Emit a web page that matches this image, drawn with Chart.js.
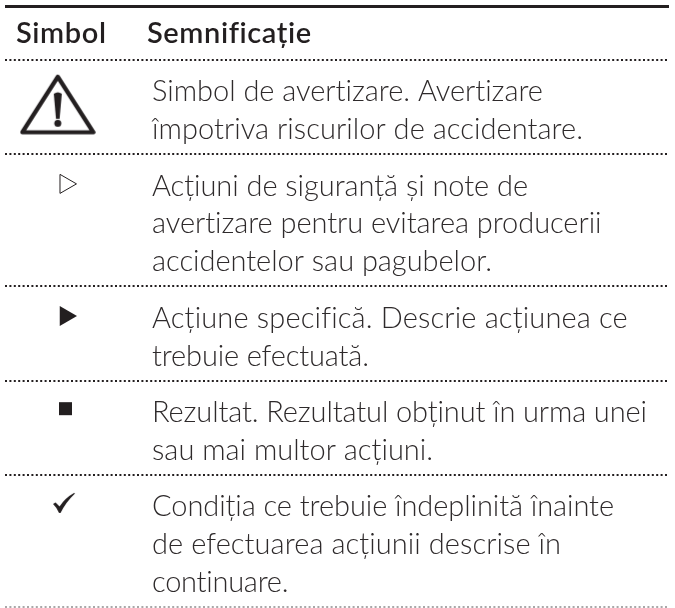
<!DOCTYPE html>
<html>
<head>
<meta charset="utf-8">
<style>
  html, body { margin: 0; background: #fff; }
  #wrap { width: 675px; height: 608px; position: relative; }
</style>
<script src="https://cdn.jsdelivr.net/npm/chart.js@4"></script>
</head>
<body>
<div id="wrap"><canvas id="myChart" width="675" height="608"></canvas></div>
<script>
const columnTitles = ['Simbol', 'Semnificație'];
const rowSymbols = ['warning', 'hollowArrow', 'solidArrow', 'square', 'check'];
const rowTexts = [
  ['Simbol de avertizare. Avertizare', 'împotriva riscurilor de accidentare.'],
  ['Acțiuni de siguranță și note de', 'avertizare pentru evitarea producerii', 'accidentelor sau pagubelor.'],
  ['Acțiune specifică. Descrie acțiunea ce', 'trebuie efectuată.'],
  ['Rezultat. Rezultatul obținut în urma unei', 'sau mai multor acțiuni.'],
  ['Condiția ce trebuie îndeplinită înainte', 'de efectuarea acțiunii descrise în', 'continuare.']
];

const INK = '#231f20';
const ROW_PAD = 0.49;
const HEADER_ROWS = 1.43;
const TEXT_X = 0.2214;
// where each text line ends in the picture, used to set its tracking
const lineEnds = [[544, 583], [528, 602, 492], [627, 369], [647, 433], [614, 561, 289]];

// row edges in units of one text line
const rowEdges = [0, HEADER_ROWS];
rowTexts.forEach(function (lines) {
  rowEdges.push(rowEdges[rowEdges.length - 1] + lines.length + ROW_PAD);
});

function makeIcon(w, h, draw) {
  const c = document.createElement('canvas');
  c.width = w;
  c.height = h;
  draw(c.getContext('2d'));
  return c;
}

const warningIcon = makeIcon(76, 62, function (g) {
  g.strokeStyle = INK;
  g.fillStyle = INK;
  g.lineWidth = 4.2;
  g.lineJoin = 'round';
  g.beginPath();
  g.moveTo(38, 3);
  g.lineTo(73.5, 58.5);
  g.lineTo(2.5, 58.5);
  g.closePath();
  g.stroke();
  g.beginPath();
  g.moveTo(34, 20);
  g.quadraticCurveTo(38, 17, 42, 20);
  g.lineTo(39.8, 45);
  g.lineTo(36.2, 45);
  g.closePath();
  g.fill();
  g.beginPath();
  g.arc(38, 49.5, 3.5, 0, Math.PI * 2);
  g.fill();
});

const checkIcon = makeIcon(24, 22, function (g) {
  g.fillStyle = INK;
  g.beginPath();
  g.moveTo(1, 12);
  g.lineTo(3.5, 10.5);
  g.lineTo(7.5, 14.5);
  g.quadraticCurveTo(13, 6, 22, 1);
  g.lineTo(23, 1.5);
  g.quadraticCurveTo(14, 10, 8.5, 21);
  g.lineTo(7, 21);
  g.quadraticCurveTo(5, 16, 1, 12);
  g.closePath();
  g.fill();
});

// column x as a share of the table width, y as lines below the row's top edge
const symbolStyles = {
  warning: { pointStyle: warningIcon, radius: 30, rotation: 0, fill: INK, border: 0, col: 0.0795, down: 1.18 },
  hollowArrow: { pointStyle: 'triangle', radius: 11, rotation: 90, fill: '#fff', border: 1, col: 0.0911, down: 0.78 },
  solidArrow: { pointStyle: 'triangle', radius: 11.5, rotation: 90, fill: INK, border: 0, col: 0.0911, down: 0.78 },
  square: { pointStyle: 'rect', radius: 9.2, rotation: 0, fill: INK, border: 0, col: 0.0911, down: 0.74 },
  check: { pointStyle: checkIcon, radius: 12, rotation: 0, fill: INK, border: 0, col: 0.0889, down: 0.74 }
};
const styleOf = function (ctx) { return symbolStyles[rowSymbols[ctx.dataIndex]]; };

const symbolPoints = rowSymbols.map(function (name, i) {
  return { x: symbolStyles[name].col, y: rowEdges[i + 1] + symbolStyles[name].down };
});

const tableText = {
  id: 'tableText',
  afterDatasetsDraw: function (chart) {
    const g = chart.ctx;
    const xs = chart.scales.x;
    const ys = chart.scales.y;
    const left = xs.getPixelForValue(TEXT_X);
    g.save();
    g.fillStyle = INK;
    g.textBaseline = 'alphabetic';

    g.font = '600 29px Lato, "Open Sans", sans-serif';
    g.letterSpacing = '0.6px';
    const headY = ys.getPixelForValue(HEADER_ROWS) - 17;
    g.fillText(columnTitles[0], 16, headY);
    g.fillText(columnTitles[1], 147, headY);

    g.font = '300 29px Lato, "Open Sans", sans-serif';
    g.fillStyle = '#2e2a2b';
    rowTexts.forEach(function (lines, r) {
      lines.forEach(function (line, i) {
        const y = ys.getPixelForValue(rowEdges[r + 1] + i + 1.09);
        g.letterSpacing = '0px';
        const spare = lineEnds[r][i] - left - g.measureText(line).width;
        g.letterSpacing = (spare / (line.length - 1)).toFixed(3) + 'px';
        g.fillText(line, left, y);
      });
    });
    g.restore();
  }
};

var ctx = document.getElementById('myChart').getContext('2d');
var myChart = new Chart(ctx, {
  type: 'scatter',
  data: {
    datasets: [{
      data: symbolPoints,
      pointStyle: function (c) { return styleOf(c).pointStyle; },
      pointRadius: function (c) { return styleOf(c).radius; },
      pointRotation: function (c) { return styleOf(c).rotation; },
      pointBackgroundColor: function (c) { return styleOf(c).fill; },
      pointBorderColor: INK,
      pointBorderWidth: function (c) { return styleOf(c).border; }
    }]
  },
  options: {
    responsive: false,
    animation: false,
    layout: { autoPadding: false, padding: { left: 5, right: 6, top: 6, bottom: 1 } },
    plugins: { legend: { display: false }, title: { display: false }, tooltip: { enabled: false } },
    scales: {
      x: { type: 'linear', min: 0, max: 1, display: false },
      y: {
        type: 'linear',
        reverse: true,
        min: 0,
        max: rowEdges[rowEdges.length - 1],
        afterBuildTicks: function (axis) {
          axis.ticks = rowEdges.map(function (v) { return { value: v }; });
        },
        ticks: { display: false },
        border: {
          display: false,
          dash: function (c) { return c.index === 0 ? [] : [2, 2.4]; }
        },
        grid: {
          drawTicks: false,
          color: function (c) { return c.index === rowEdges.length - 1 ? '#a9a7a8' : INK; },
          lineWidth: function (c) { return c.index === 0 ? 3 : 2; }
        }
      }
    }
  },
  plugins: [tableText]
});
</script>
</body>
</html>
